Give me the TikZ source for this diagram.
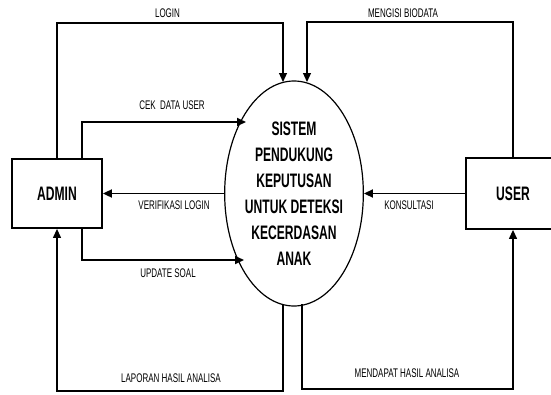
\documentclass[tikz,border=0pt]{standalone}
\usepackage{fontspec}
\setmainfont{Liberation Sans}
\newfontfamily\lblfont[FakeStretch=0.64]{Liberation Sans}
\newfontfamily\bldfont[FakeStretch=0.62]{Liberation Sans}
\usetikzlibrary{arrows.meta,shapes.geometric,calc}
\tikzset{
  x=1pt,y=1pt,
  entity/.style={draw,line width=1.8pt,rectangle,inner sep=0pt,font=\bldfont\bfseries\fontsize{19.5}{22}\selectfont},
  proc/.style={draw,line width=1.2pt,ellipse,inner sep=0pt,minimum width=124pt,minimum height=225pt,align=center,font=\bldfont\bfseries\fontsize{19.5}{26}\selectfont},
  lbl/.style={inner sep=0pt,font=\lblfont\fontsize{12.5}{14}\selectfont},
  thickflow/.style={line width=1.8pt,-{Triangle[length=9pt,width=8pt]}},
  thinflow/.style={line width=1.2pt,-{Triangle[length=9pt,width=8pt]}},
}
\begin{document}
\begin{tikzpicture}
\useasboundingbox (0,0) rectangle (551,-394);
\node[entity,minimum width=90pt,minimum height=69pt] (admin) at (57,-193.5) {ADMIN};
\node[entity,minimum width=94pt,minimum height=71pt] (user) at (513,-193.5) {USER};
\node[proc] (sys) at (294,-193.5) {SISTEM\\PENDUKUNG\\KEPUTUSAN\\UNTUK DETEKSI\\KECERDASAN\\ANAK};
% connector end points on the ellipse
\coordinate (loginEnd) at (283,-82);
\coordinate (bioEnd) at (307,-82);
\coordinate (cekEnd) at (246,-122);
\coordinate (updEnd) at (244,-260);
\coordinate (lapStart) at (283,-304);
\coordinate (mendStart) at (302,-304);
% flows
\draw[thinflow] (admin.north) |- (283,-23) -- (loginEnd);
\draw[thinflow] (user.north) |- (307,-22) -- (bioEnd);
\draw[thickflow] ($(admin.north)+(25,0)$) |- (cekEnd);
\draw[thickflow] (sys.west) -- (admin.east);
\draw[thickflow] ($(admin.south)+(25,0)$) |- (updEnd);
\draw[thickflow] (user.west) -- (sys.east);
\draw[thinflow] (lapStart) -- (283,-391) -| (admin.south);
\draw[thinflow] (mendStart) -- (302,-389) -| (user.south);
% labels
\node[lbl] (tLogin) at (167.5,-13) {LOGIN};
\node[lbl] (tBio) at (403,-13) {MENGISI BIODATA};
\node[lbl] (tCek) at (172,-105) {CEK\ \ DATA USER};
\node[lbl] (tVer) at (174,-205) {VERIFIKASI LOGIN};
\node[lbl] (tUpd) at (168,-273) {UPDATE SOAL};
\node[lbl] (tKon) at (409,-205) {KONSULTASI};
\node[lbl] (tLap) at (171,-378) {LAPORAN HASIL ANALISA};
\node[lbl] (tMen) at (407,-373) {MENDAPAT HASIL ANALISA};
\end{tikzpicture}
\end{document}
